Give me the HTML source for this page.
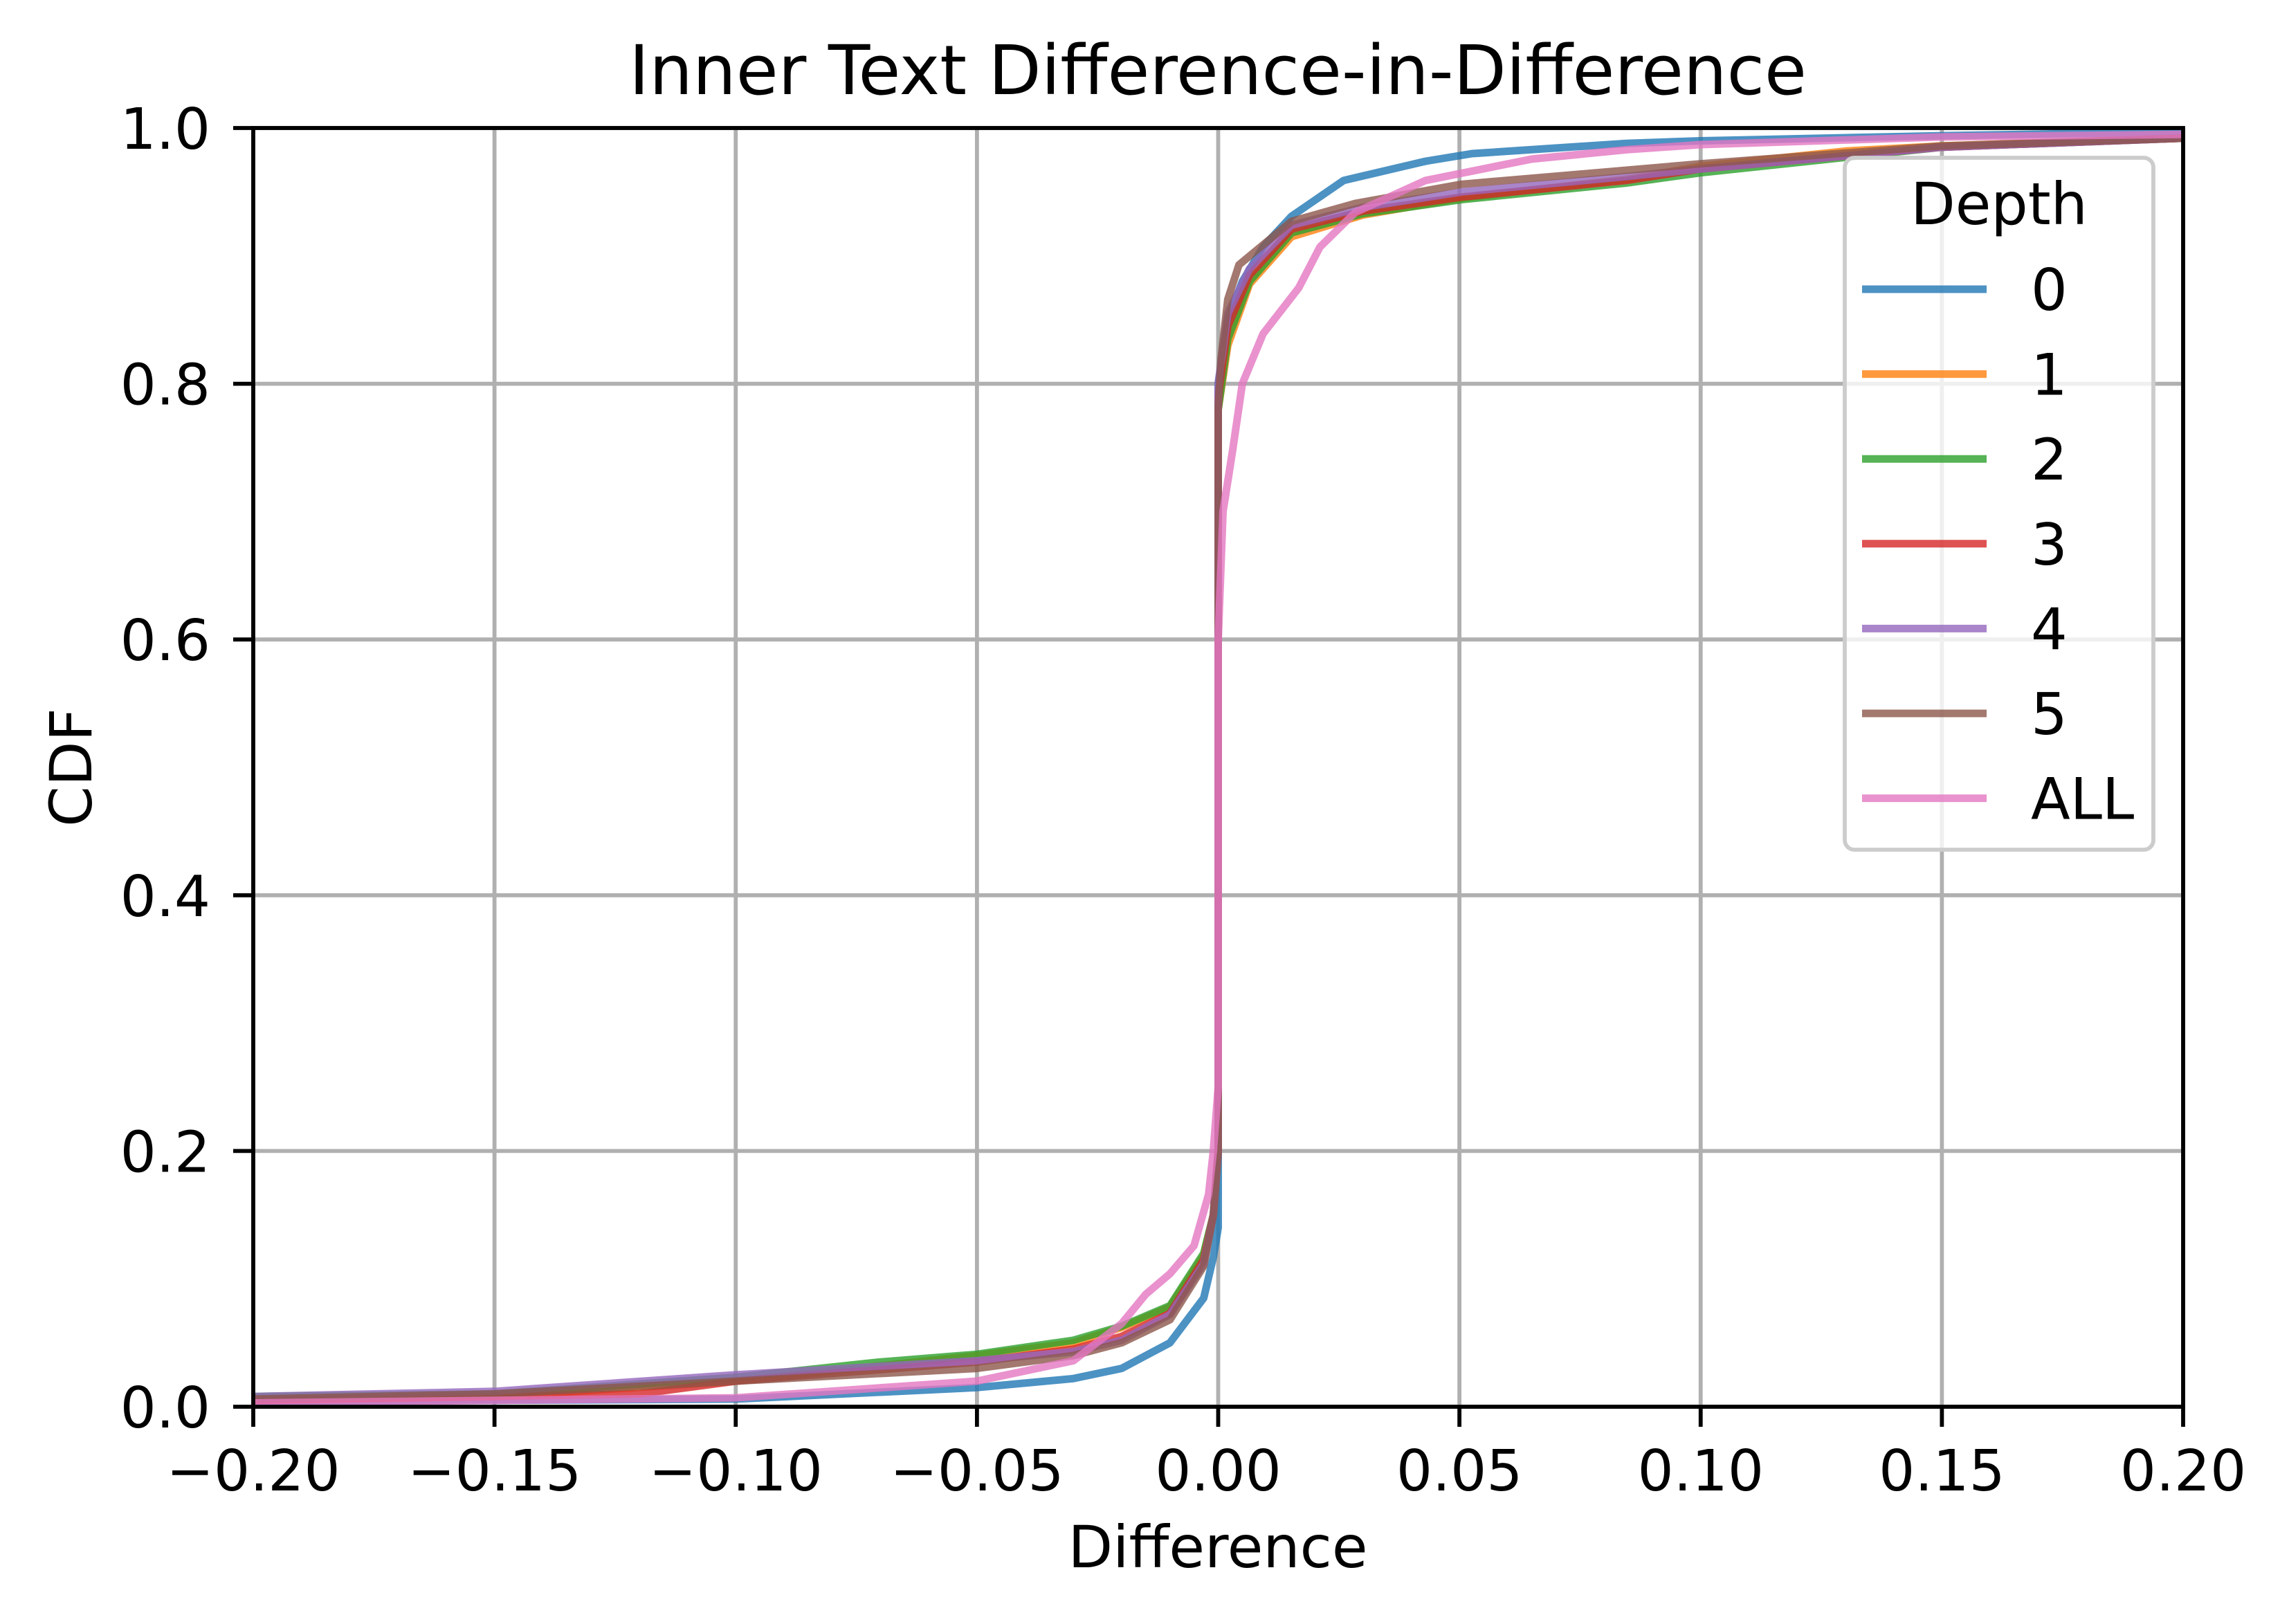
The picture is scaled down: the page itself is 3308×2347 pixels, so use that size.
<!DOCTYPE html>
<html><head><meta charset="utf-8"><style>
html,body{margin:0;padding:0;background:#fff;}
svg{display:block;font-family:"DejaVu Sans","Liberation Sans",sans-serif;}
</style></head><body>
<svg id="chart" width="3308" height="2347" viewBox="0 0 3308 2347" xmlns="http://www.w3.org/2000/svg">
<rect width="3308" height="2347" fill="#fff"/>
<g id="grid"></g>
<g id="series"></g>
<g id="axes"></g>
<g id="legend"></g>
<text x="1760" y="136" font-size="99" text-anchor="middle">Inner Text Difference-in-Difference</text>
<text x="1760" y="2265" font-size="84" text-anchor="middle">Difference</text>
<text x="0" y="0" font-size="84" text-anchor="middle" transform="translate(132,1109) rotate(-90)">CDF</text>
</svg>
<script>
const xTicks=[-0.2,-0.15,-0.1,-0.05,0,0.05,0.1,0.15,0.2];
const xTickLabels=["\u22120.20","\u22120.15","\u22120.10","\u22120.05","0.00","0.05","0.10","0.15","0.20"];
const yTicks=[0,0.2,0.4,0.6,0.8,1.0];
const yTickLabels=["0.0","0.2","0.4","0.6","0.8","1.0"];
const seriesNames=["0","1","2","3","4","5","ALL"];
const seriesColors=["#1f77b4","#ff7f0e","#2ca02c","#d62728","#9467bd","#8c564b","#e377c2"];
const d0x=[-0.2,-0.1,-0.05,-0.03,-0.02,-0.01,-0.003,-0.001,0,0,0.002,0.005,0.0093,0.0152,0.026,0.043,0.0526,0.0846,0.1,0.15,0.2];
const d0y=[0.004,0.006,0.015,0.022,0.03,0.05,0.085,0.117,0.14,0.8,0.85,0.88,0.907,0.931,0.959,0.974,0.98,0.988,0.99,0.994,0.997];
const d1x=[-0.2,-0.15,-0.1,-0.05,-0.03,-0.02,-0.01,-0.003,-0.001,0,0,0.002,0.0065,0.0152,0.03,0.05,0.0846,0.1,0.13,0.15,0.2];
const d1y=[0.005,0.008,0.02,0.04,0.05,0.062,0.078,0.118,0.15,0.2,0.78,0.83,0.878,0.915,0.932,0.945,0.96,0.97,0.982,0.986,0.992];
const d2x=[-0.2,-0.15,-0.1,-0.07,-0.05,-0.03,-0.02,-0.01,-0.003,-0.001,0,0,0.002,0.0065,0.0152,0.03,0.0504,0.0846,0.1,0.15,0.2];
const d2y=[0.008,0.01,0.023,0.035,0.041,0.052,0.063,0.079,0.12,0.15,0.2,0.78,0.835,0.88,0.918,0.933,0.944,0.957,0.965,0.985,0.992];
const d3x=[-0.2,-0.15,-0.12,-0.1,-0.05,-0.03,-0.02,-0.01,-0.003,-0.001,0,0,0.002,0.0065,0.0152,0.03,0.0504,0.0846,0.1,0.15,0.2];
const d3y=[0.005,0.008,0.01,0.02,0.035,0.045,0.055,0.073,0.115,0.15,0.2,0.79,0.845,0.885,0.921,0.935,0.946,0.959,0.968,0.985,0.992];
const d4x=[-0.2,-0.15,-0.1,-0.05,-0.03,-0.02,-0.01,-0.003,-0.001,0,0,0.002,0.0065,0.0152,0.03,0.0504,0.0846,0.1,0.15,0.2];
const d4y=[0.008,0.012,0.025,0.036,0.043,0.052,0.072,0.112,0.15,0.2,0.8,0.855,0.89,0.924,0.938,0.95,0.962,0.968,0.985,0.992];
const d5x=[-0.2,-0.15,-0.1,-0.05,-0.03,-0.02,-0.01,-0.003,-0.001,0,0,0.0006,0.002,0.0043,0.0152,0.0284,0.0504,0.0846,0.1,0.15,0.2];
const d5y=[0.006,0.01,0.02,0.03,0.04,0.05,0.068,0.11,0.15,0.2,0.78,0.82,0.866,0.893,0.927,0.941,0.956,0.967,0.972,0.986,0.992];
const dAx=[-0.2,-0.1,-0.05,-0.03,-0.02,-0.015,-0.01,-0.005,-0.002,-0.001,0,0,0.001,0.003,0.005,0.0093,0.0167,0.0211,0.0284,0.043,0.065,0.0846,0.1,0.15,0.2];
const dAy=[0.003,0.007,0.02,0.036,0.065,0.088,0.104,0.126,0.166,0.2,0.25,0.6,0.7,0.748,0.8,0.839,0.875,0.907,0.934,0.959,0.9757,0.983,0.987,0.993,0.995];
const allX=[d0x,d1x,d2x,d3x,d4x,d5x,dAx];
const allY=[d0y,d1y,d2y,d3y,d4y,d5y,dAy];

const L=366,R=3155,T=185,B=2033;
const xMin=-0.2,xMax=0.2,yMin=0,yMax=1;
const sx=v=>L+(v-xMin)/(xMax-xMin)*(R-L);
const sy=v=>B-(v-yMin)/(yMax-yMin)*(B-T);
const NS="http://www.w3.org/2000/svg";
function mk(tag,attrs,parent){const e=document.createElementNS(NS,tag);for(const k in attrs)e.setAttribute(k,attrs[k]);parent.appendChild(e);return e;}
const grid=document.getElementById('grid'),axes=document.getElementById('axes'),series=document.getElementById('series'),legend=document.getElementById('legend');
xTicks.forEach((t,i)=>{
  const x=sx(t);
  const g=mk('line',{x1:x,x2:x,y1:T,y2:B,stroke:'#b0b0b0','stroke-width':5.8},grid);
  
  
  const tk=mk('line',{x1:x,x2:x,y1:B,y2:B+29,stroke:'#000','stroke-width':5.8},axes);
  
  
  const tx=mk('text',{x:x,y:2154,'font-size':82,'text-anchor':'middle'},axes);
  tx.textContent=xTickLabels[i];
  
  
});
yTicks.forEach((t,i)=>{
  const y=sy(t);
  const g=mk('line',{x1:L,x2:R,y1:y,y2:y,stroke:'#b0b0b0','stroke-width':5.8},grid);
  
  
  const tk=mk('line',{x1:L-29,x2:L,y1:y,y2:y,stroke:'#000','stroke-width':5.8},axes);
  
  
  const tx=mk('text',{x:L-62,y:y+30,'font-size':82,'text-anchor':'end'},axes);
  tx.textContent=yTickLabels[i];
  
  
});
allX.forEach((xs,si)=>{
  const pts=xs.map((v,j)=>sx(v).toFixed(1)+','+sy(allY[si][j]).toFixed(1)).join(' ');
  const p=mk('polyline',{points:pts,fill:'none',stroke:seriesColors[si],'stroke-width':11,'stroke-opacity':0.8,'stroke-linejoin':'round'},series);
  
  
});
const sp=mk('rect',{x:L,y:T,width:R-L,height:B-T,fill:'none',stroke:'#000','stroke-width':5.8},axes);


const lb=mk('rect',{x:2666,y:228,width:446,height:1000,rx:14,fill:'#fff','fill-opacity':0.8,stroke:'#cccccc','stroke-width':5.8},legend);


const lt=mk('text',{x:2889,y:324,'font-size':84,'text-anchor':'middle'},legend);
lt.textContent='Depth';


seriesNames.forEach((n,i)=>{
  const y=418+i*122.6;
  const ln=mk('line',{x1:2691,x2:2871,y1:y,y2:y,stroke:seriesColors[i],'stroke-width':11,'stroke-opacity':0.8},legend);
  
  
  const tx=mk('text',{x:2935,y:y+30,'font-size':83},legend);
  tx.textContent=n;
  
  
});
</script>
</body></html>
